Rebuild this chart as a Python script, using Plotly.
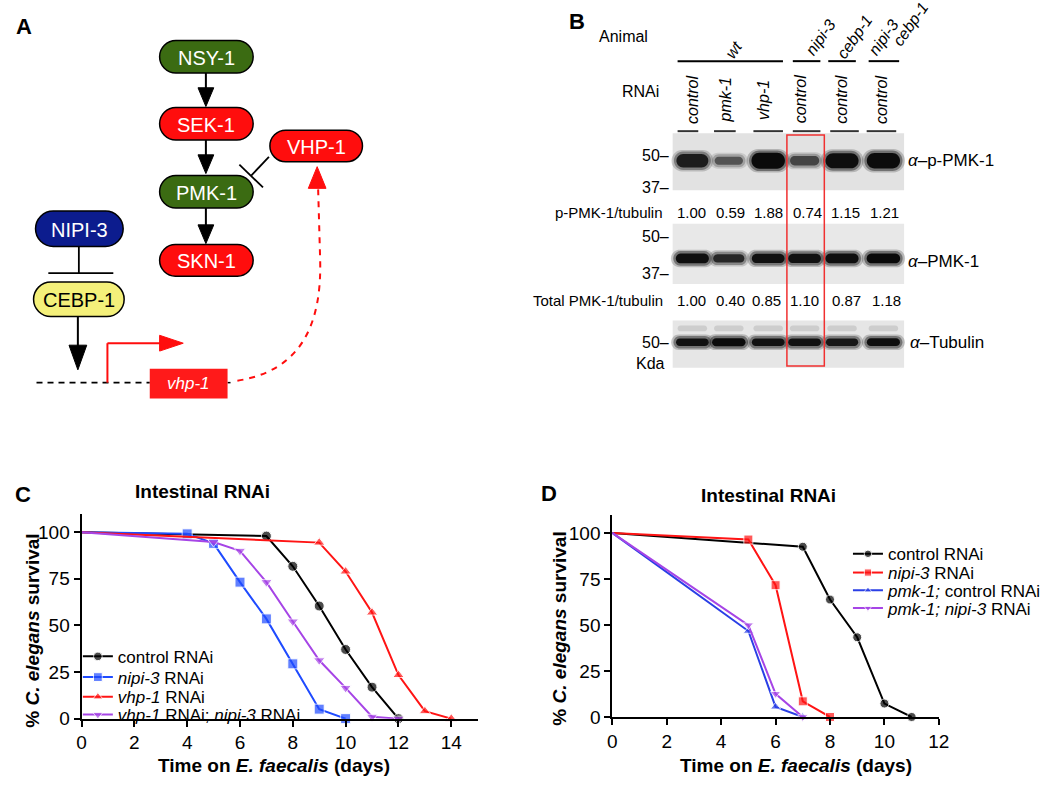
import plotly.graph_objects as go

W, H = 1050, 798
FONT = "Arial, Liberation Sans, sans-serif"

# ---------------- Panel C data ----------------
c_days_control = [0, 7, 8, 9, 10, 11, 12]
c_surv_control = [100, 97.9, 81.7, 60.4, 37.1, 16.9, 0]
c_days_nipi3 = [0, 4, 5, 6, 7, 8, 9, 10]
c_surv_nipi3 = [100, 99.1, 94.0, 73.2, 53.5, 29.4, 5.1, 0]
c_days_vhp1 = [0, 9, 10, 11, 12, 13, 14]
c_surv_vhp1 = [100, 94.4, 78.9, 56.9, 23.4, 4.0, 0]
c_days_double = [0, 5, 6, 7, 8, 9, 10, 11, 12]
c_surv_double = [100, 94.7, 90.0, 73.2, 52.1, 31.3, 16.5, 1.0, 0]

# ---------------- Panel D data ----------------
d_days_control = [0, 7, 8, 9, 10, 11]
d_surv_control = [100, 92.5, 63.8, 43.3, 7.3, 0]
d_days_nipi3 = [0, 5, 6, 7, 8]
d_surv_nipi3 = [100, 96.4, 71.6, 8.5, 0]
d_days_pmk1 = [0, 5, 6, 7]
d_surv_pmk1 = [100, 46.7, 5.5, 0]
d_days_pmk1_nipi3 = [0, 5, 6, 7]
d_surv_pmk1_nipi3 = [100, 49.9, 12.6, 0]

surv_ticks = [0, 25, 50, 75, 100]
c_day_ticks = [0, 2, 4, 6, 8, 10, 12, 14]
d_day_ticks = [0, 2, 4, 6, 8, 10, 12]

# ---------------- Panel B data ----------------
rnai_labels = ["control", "pmk-1", "vhp-1", "control", "control", "control"]
ratio_ppmk = [1.00, 0.59, 1.88, 0.74, 1.15, 1.21]
ratio_total = [1.00, 0.40, 0.85, 1.10, 0.87, 1.18]
band_ppmk = [0.80, 0.35, 1.00, 0.45, 0.95, 0.97]
band_pmk = [0.95, 0.70, 0.90, 0.90, 0.95, 1.00]
band_tub = [0.90, 1.00, 0.90, 0.90, 0.85, 0.95]

fig = go.Figure()

def sizes(n, s):
    return [0] + [s] * (n - 1)

def add_curve(x, y, name, color, symbol, size, xa, ya, legend):
    fig.add_trace(go.Scatter(
        x=x, y=y, name=name, mode="lines+markers",
        line=dict(color=color, width=2),
        marker=dict(color=color, symbol=symbol, size=sizes(len(x), size)),
        xaxis=xa, yaxis=ya, legend=legend, cliponaxis=False, showlegend=True))

BLACK, BLUE, RED, PURPLE = "#000000", "#1f4bff", "#ff1414", "#a645e6"
add_curve(c_days_control, c_surv_control, "control RNAi", BLACK, "circle", 10, "x", "y", "legend")
add_curve(c_days_nipi3, c_surv_nipi3, "<i>nipi-3</i> RNAi", BLUE, "square", 10, "x", "y", "legend3")
add_curve(c_days_vhp1, c_surv_vhp1, "<i>vhp-1</i> RNAi", RED, "triangle-up", 10, "x", "y", "legend4")
add_curve(c_days_double, c_surv_double, "<i>vhp-1</i> RNAi; <i>nipi-3</i> RNAi", PURPLE, "triangle-down", 10, "x", "y", "legend5")

add_curve(d_days_control, d_surv_control, "control RNAi", BLACK, "circle", 9, "x2", "y2", "legend2")
add_curve(d_days_nipi3, d_surv_nipi3, "<i>nipi-3</i> RNAi", RED, "square", 9, "x2", "y2", "legend6")
add_curve(d_days_pmk1, d_surv_pmk1, "<i>pmk-1;</i> control RNAi", "#2a3fe6", "triangle-up", 9, "x2", "y2", "legend7")
add_curve(d_days_pmk1_nipi3, d_surv_pmk1_nipi3, "<i>pmk-1; nipi-3</i> RNAi", PURPLE, "triangle-down", 9, "x2", "y2", "legend8")

# dummy trace for the drawing canvas (pixel coordinates)
fig.add_trace(go.Scatter(x=[], y=[], xaxis="x3", yaxis="y3", showlegend=False))

axis_common = dict(showline=True, linecolor="black", linewidth=2, ticks="outside",
                   ticklen=6, tickwidth=2, tickcolor="black", showgrid=False,
                   zeroline=False, tickfont=dict(size=19, color="black", family=FONT))

def dom_x(a, b):
    return [a / W, b / W]

def dom_y(top, bottom):
    return [1 - bottom / H, 1 - top / H]

fig.update_layout(
    xaxis=dict(domain=dom_x(77.7, 480), range=[0, 15], tickvals=c_day_ticks, anchor="y", **axis_common),
    yaxis=dict(domain=dom_y(520.7, 728.7), range=[0, 110], tickvals=surv_ticks, anchor="x", **axis_common),
    xaxis2=dict(domain=dom_x(616.7, 948.3), range=[0, 12], tickvals=d_day_ticks, anchor="y2", **axis_common),
    yaxis2=dict(domain=dom_y(521.7, 727), range=[0, 110], tickvals=surv_ticks, anchor="x2", **axis_common),
    xaxis3=dict(domain=[0, 1], range=[0, W], visible=False, anchor="y3", fixedrange=True),
    yaxis3=dict(domain=[0, 1], range=[H, 0], visible=False, anchor="x3", fixedrange=True),
)

shapes = []
ann = []

def T(x, y, text, size=16, color="black", xanchor="center", yanchor="middle", angle=0, bold=False):
    if bold:
        text = "<b>" + text + "</b>"
    ann.append(dict(x=x, y=y, xref="x3", yref="y3", text=text, showarrow=False,
                    xanchor=xanchor, yanchor=yanchor, textangle=angle,
                    font=dict(size=size, color=color, family=FONT)))

def pill(x0, y0, x1, y1, fill, line="black", lw=1.5, r=None, layer="above"):
    if r is None:
        r = (y1 - y0) / 2
    k = 0.55 * r
    p = (f"M {x0+r},{y0} L {x1-r},{y0} C {x1-r+k},{y0} {x1},{y0+r-k} {x1},{y0+r} "
         f"L {x1},{y1-r} C {x1},{y1-r+k} {x1-r+k},{y1} {x1-r},{y1} "
         f"L {x0+r},{y1} C {x0+r-k},{y1} {x0},{y1-r+k} {x0},{y1-r} "
         f"L {x0},{y0+r} C {x0},{y0+r-k} {x0+r-k},{y0} {x0+r},{y0} Z")
    shapes.append(dict(type="path", path=p, xref="x3", yref="y3", fillcolor=fill,
                       line=dict(color=line, width=lw), layer=layer))

def seg(x0, y0, x1, y1, color="black", w=1.5, dash="solid"):
    shapes.append(dict(type="line", x0=x0, y0=y0, x1=x1, y1=y1, xref="x3", yref="y3",
                       line=dict(color=color, width=w, dash=dash)))

def head(tx, ty, bx, by, half, color="black", horizontal=False):
    if horizontal:
        p = f"M {tx},{ty} L {bx},{by-half} L {bx},{by+half} Z"
    else:
        p = f"M {tx},{ty} L {bx-half},{by} L {bx+half},{by} Z"
    shapes.append(dict(type="path", path=p, xref="x3", yref="y3", fillcolor=color,
                       line=dict(color=color, width=1)))

# ---------------- Panel A ----------------
GREEN, ARED, NAVY, YELLOW = "#3b6b12", "#ff0d0d", "#0c1c8e", "#f4f07a"
T(19, 27, "A", size=22, bold=True)
boxes = [(157, 41, 252, 74, GREEN, "NSY-1", "white"),
         (157, 109, 252, 142, ARED, "SEK-1", "white"),
         (157, 178, 252, 211, GREEN, "PMK-1", "white"),
         (157, 248, 252, 280, ARED, "SKN-1", "white"),
         (269, 132, 363, 164, ARED, "VHP-1", "white"),
         (31, 214, 120, 250, NAVY, "NIPI-3", "white"),
         (29, 286, 121, 321, YELLOW, "CEBP-1", "black")]
for x0, y0, x1, y1, fc, lab, tc in boxes:
    pill(x0, y0, x1, y1, fc)
    T((x0 + x1) / 2, (y0 + y1) / 2 + 1, lab, size=20, color=tc)

# cascade arrows
seg(204, 74, 204, 92, w=2)
head(204, 108, 204, 89, 8)
seg(204, 142, 204, 160, w=2)
head(204, 176, 204, 157, 8)
seg(204, 211, 204, 231, w=2)
head(204, 247, 204, 228, 8)
# VHP-1 inhibits PMK-1
seg(268, 159, 250, 178, w=1.8)
seg(238, 167, 262, 190, w=1.8)
# NIPI-3 inhibits CEBP-1
seg(75, 250, 75, 277, w=1.8)
seg(44, 277, 110, 277, w=1.8)
# CEBP-1 arrow to DNA
seg(74, 321, 74, 352, w=2)
head(74, 375, 74, 350, 9)
# DNA
seg(32, 388, 147, 388, w=1.8, dash="6px,5px")
seg(226, 388, 229, 388, w=1.5)
# promoter arrow
seg(104, 388, 104, 348, color=ARED, w=2)
seg(104, 348, 158, 348, color=ARED, w=2)
head(181, 348, 157, 348, 8, color=ARED, horizontal=True)
# gene box
shapes.append(dict(type="rect", x0=147, y0=374, x1=226, y1=404, xref="x3", yref="y3",
                   fillcolor="#ff1a1a", line=dict(width=0)))
T(186, 389, "<i>vhp-1</i>", size=17, color="white")
# dashed curved arrow to VHP-1
shapes.append(dict(type="path", path="M 236,386 C 300,376 322,330 320,262 L 318,192",
                   xref="x3", yref="y3", line=dict(color=ARED, width=2, dash="6px,6px")))
head(317, 169, 317, 191, 9, color=ARED)

# ---------------- Panel B ----------------
T(581, 22, "B", size=22, bold=True)
T(628, 37, "Animal", size=16)
T(645, 93, "RNAi", size=16)

# animal header lines and labels
seg(683, 62, 790, 62, w=2)
seg(800, 62, 828, 62, w=2)
seg(836, 62, 864, 62, w=2)
seg(877, 62, 908, 62, w=2)
T(740, 50, "<i>wt</i>", size=16, angle=-55)
T(828, 38, "<i>nipi-3</i>", size=16, angle=-55)
T(863, 37, "<i>cebp-1</i>", size=16, angle=-55)
T(892, 38, "<i>nipi-3</i>", size=16, angle=-55)
T(920, 24, "<i>cebp-1</i>", size=16, angle=-55)

lane_label_x = [698, 732, 770, 808, 850, 890]
underline = [(683, 704), (720, 742), (760, 790), (800, 828), (838, 867), (875, 905)]
for lx, lab, (u0, u1) in zip(lane_label_x, rnai_labels, underline):
    T(lx, 101, "<i>" + lab + "</i>", size=16, angle=-90)
    seg(u0, 133, u1, 133, w=2, color="#333333")

# blots
lane_x = [698, 735, 775, 812, 850, 892]
blots = [(135, 193, 163, band_ppmk, 6, 12, "#e2e2e2"),
         (227, 288, 262, band_pmk, 7, 5, "#e8e8e8"),
         (325, 373, 347, band_tub, 7, 3, "#e6e6e6")]
for y0, y1, cy, dark, hmin, hvar, bg in blots:
    shapes.append(dict(type="rect", x0=678, y0=y0, x1=913, y1=y1, xref="x3", yref="y3",
                       fillcolor=bg, line=dict(width=0), layer="below"))
    for lx, d in zip(lane_x, dark):
        h = hmin + hvar * d
        w = 28 + 8 * d
        a = 0.25 + 0.75 * d
        # soft halo + core to imitate blurred bands
        pill(lx - w / 2 - 4, cy - h / 2 - 3, lx + w / 2 + 4, cy + h / 2 + 3,
             f"rgba(40,40,40,{0.25 * a:.2f})", line="rgba(0,0,0,0)", lw=0)
        pill(lx - w / 2 - 1.5, cy - h / 2 - 1.5, lx + w / 2 + 1.5, cy + h / 2 + 1.5,
             f"rgba(25,25,25,{0.45 * a:.2f})", line="rgba(0,0,0,0)", lw=0)
        pill(lx - w / 2 + 1, cy - h / 2 + 1, lx + w / 2 - 1, cy + h / 2 - 1,
             f"rgba(10,10,10,{a:.2f})", line="rgba(0,0,0,0)", lw=0)
# faint upper bands on tubulin blot
for lx in lane_x:
    pill(lx - 15, 330, lx + 15, 336, "rgba(120,120,120,0.22)", line="rgba(0,0,0,0)", lw=0)

# red box
shapes.append(dict(type="rect", x0=794, y0=137, x1=832, y1=371, xref="x3", yref="y3",
                   fillcolor="rgba(0,0,0,0)", line=dict(color="#f03030", width=1.5)))

# MW markers
T(676, 158, "50–", size=16, xanchor="right")
T(676, 190, "37–", size=16, xanchor="right")
T(676, 240, "50–", size=16, xanchor="right")
T(676, 277, "37–", size=16, xanchor="right")
T(676, 347, "50–", size=16, xanchor="right")
T(672, 369, "Kda", size=16, xanchor="right")

# antibody labels
T(915, 163, "<i>α</i>–p-PMK-1", size=17, xanchor="left")
T(915, 265, "<i>α</i>–PMK-1", size=17, xanchor="left")
T(917, 347, "<i>α</i>–Tubulin", size=17, xanchor="left")

# ratio rows
T(670, 215, "p-PMK-1/tubulin", size=15, xanchor="right")
for vx, v in zip([697, 737, 775, 815, 853, 893], ratio_ppmk):
    T(vx, 215, f"{v:.2f}", size=15)
T(670, 305, "Total PMK-1/tubulin", size=15, xanchor="right")
for vx, v in zip([697, 737, 773, 812, 855, 895], ratio_total):
    T(vx, 305, f"{v:.2f}", size=15)

# ---------------- Panels C & D text ----------------
T(18, 501, "C", size=22, bold=True)
T(552, 500, "D", size=22, bold=True)
T(201, 498, "Intestinal RNAi", size=19, bold=True)
T(775, 502, "Intestinal RNAi", size=19, bold=True)
T(273, 776, "Time on <i>E. faecalis</i> (days)", size=19, bold=True)
T(803, 776, "Time on <i>E. faecalis</i> (days)", size=19, bold=True)
T(28, 640, "% <i>C. elegans</i> survival", size=19, bold=True, angle=-90)
T(563, 637, "% <i>C. elegans</i> survival", size=19, bold=True, angle=-90)

# one legend box per entry so that row spacing matches the figure
def leg(x_px, y_px):
    return dict(x=x_px / W, y=1 - y_px / H, xanchor="left", yanchor="middle",
                bgcolor="rgba(0,0,0,0)", font=dict(size=17, family=FONT, color="black"),
                itemwidth=30, tracegroupgap=0)

c_rows = [666, 687, 707, 725]
d_rows = [562, 581, 599, 617]
legends = {}
for key, yy in zip(["legend", "legend3", "legend4", "legend5"], c_rows):
    legends[key] = leg(74, yy)
for key, yy in zip(["legend2", "legend6", "legend7", "legend8"], d_rows):
    legends[key] = leg(856, yy)

fig.update_layout(
    width=W, height=H, margin=dict(l=0, r=0, t=0, b=0),
    paper_bgcolor="white", plot_bgcolor="rgba(0,0,0,0)",
    font=dict(family=FONT, color="black"), showlegend=True,
    shapes=shapes, annotations=ann, **legends,
)

fig.write_html("out.html", post_script="document.body.style.margin='0';",
               config={"displayModeBar": False})
